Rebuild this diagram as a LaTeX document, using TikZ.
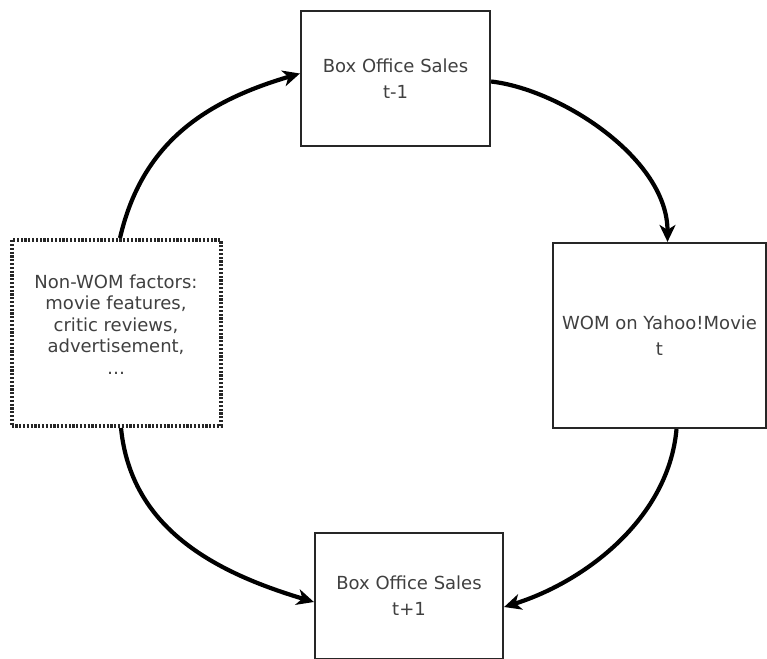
\documentclass[tikz,border=0pt]{standalone}
\usepackage{fontspec}
\setmainfont{DejaVu Sans}
\usetikzlibrary{arrows.meta}
\begin{document}
\begin{tikzpicture}[x=1pt,y=1pt,
  box/.style={draw=black!85,line width=2.2pt,fill=white,align=center,
    font=\fontsize{18}{26}\selectfont,text=black!75,inner sep=0pt},
  dotbox/.style={box,line width=4pt,dash pattern=on 2.2pt off 1.6pt,
    font=\fontsize{18}{21.5}\selectfont},
  flow/.style={line width=4.2pt,-{Stealth[length=17pt,width=16pt,inset=5pt]}}]
\useasboundingbox (0,0) rectangle (767,-658);
\node[box,minimum width=189pt,minimum height=135pt] (top) at (395.5,-78.5)
  {Box Office Sales\\t-1};
\node[box,minimum width=213pt,minimum height=185pt] (right) at (659.5,-335.5)
  {WOM on Yahoo!Movie\\t};
\node[dotbox,minimum width=209pt,minimum height=186pt] (left) at (116,-333)
  {\raisebox{6pt}[\height][\depth]{\begin{tabular}{@{}c@{}}Non-WOM factors:\\movie features,\\critic reviews,\\advertisement,\\\ldots\end{tabular}}};
\node[box,minimum width=188pt,minimum height=126pt] (bottom) at (409,-596)
  {Box Office Sales\\t+1};
\draw[flow] ([xshift=4pt]left.north) .. controls +(22,95) and +(-95,-28) .. ([yshift=5pt]top.west);
\draw[flow] ([yshift=-3pt]top.east) .. controls +(70,-8) and +(0,83) .. ([xshift=8pt]right.north);
\draw[flow] ([xshift=17pt]right.south) .. controls +(-8,-90) and +(80,25) .. ([yshift=-11pt]bottom.east);
\draw[flow] ([xshift=5pt]left.south) .. controls +(10,-100) and +(-100,30) .. ([yshift=-6pt]bottom.west);
\end{tikzpicture}
\end{document}
